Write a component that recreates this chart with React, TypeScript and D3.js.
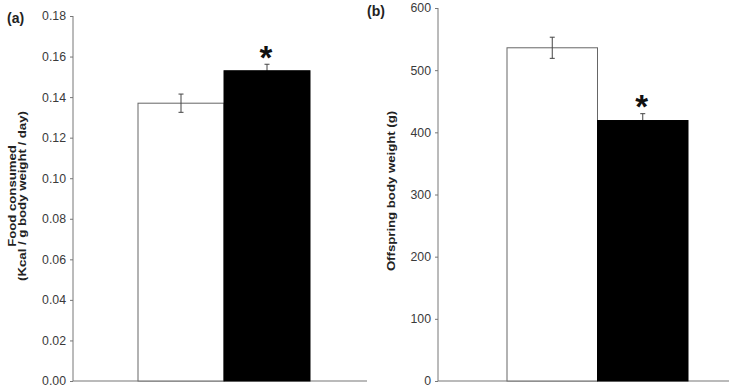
import React, { useRef, useEffect } from 'react';
import * as d3 from 'd3';

const groups = ['Control', 'Treated'];
const barFills = ['#ffffff', '#000000'];
const significant = [false, true];

const foodMeans = [0.137, 0.153];
const foodErrors = [0.0045, 0.0032];
const foodTicks = [0, 0.02, 0.04, 0.06, 0.08, 0.1, 0.12, 0.14, 0.16, 0.18];

const weightMeans = [536, 419];
const weightErrors = [17, 11];
const weightTicks = [0, 100, 200, 300, 400, 500, 600];

const FONT = '"Liberation Sans", Arial, sans-serif';

interface PanelSpec {
  tag: string;
  titleLines: string[];
  titleBaselines: number[];
  titleCenter: number;
  means: number[];
  errors: number[];
  ticks: number[];
  fmt: (v: number) => string;
  domainMax: number;
  axisX: number;
  axisEnd: number;
  barRange: [number, number];
  top: number;
  tagPos: [number, number];
}

const App: React.FC = () => {
  const svgRef = useRef<SVGSVGElement>(null);

  useEffect(() => {
    if (!svgRef.current) return;
    const svg = d3.select(svgRef.current);
    svg.selectAll('*').remove();

    const bottom = 381;

    const panels: PanelSpec[] = [
      {
        tag: '(a)',
        titleLines: ['Food consumed', '(Kcal / g body weight / day)'],
        titleBaselines: [15.5, 25.5],
        titleCenter: 196,
        means: foodMeans,
        errors: foodErrors,
        ticks: foodTicks,
        fmt: d3.format('.2f'),
        domainMax: 0.18,
        axisX: 73,
        axisEnd: 367,
        barRange: [138, 310],
        top: 16,
        tagPos: [7, 23],
      },
      {
        tag: '(b)',
        titleLines: ['Offspring body weight (g)'],
        titleBaselines: [395],
        titleCenter: 191,
        means: weightMeans,
        errors: weightErrors,
        ticks: weightTicks,
        fmt: d3.format('d'),
        domainMax: 600,
        axisX: 438,
        axisEnd: 729,
        barRange: [507, 688],
        top: 8,
        tagPos: [367, 16],
      },
    ];

    panels.forEach(p => {
      const y = d3.scaleLinear().domain([0, p.domainMax]).range([bottom, p.top]);
      const x = d3.scaleBand().domain(groups).range(p.barRange).padding(0);
      const g = svg.append('g');

      // Y axis
      g.append('g')
        .attr('transform', `translate(${p.axisX},0)`)
        .call(d3.axisLeft(y).tickValues(p.ticks).tickFormat(d => p.fmt(+d)).tickSize(3).tickPadding(4))
        .call(a => a.select('.domain').attr('stroke', '#777').attr('d', `M0,${bottom}V${p.top}`))
        .call(a => a.selectAll('.tick line').attr('stroke', '#777'))
        .call(a => a.selectAll('.tick text')
          .attr('fill', '#3a3a3a')
          .attr('font-size', 12.3)
          .attr('font-family', FONT));

      // X axis line
      g.append('line')
        .attr('x1', p.axisX).attr('x2', p.axisEnd)
        .attr('y1', bottom).attr('y2', bottom)
        .attr('stroke', '#777').attr('stroke-width', 1.2);

      // Bars + error bars
      groups.forEach((grp, i) => {
        const bx = x(grp)!;
        const cx = bx + x.bandwidth() / 2;
        const hi = y(p.means[i] + p.errors[i]);
        const lo = y(p.means[i] - p.errors[i]);
        const drawErr = () => {
          g.append('line').attr('x1', cx).attr('x2', cx).attr('y1', hi).attr('y2', lo)
            .attr('stroke', '#444').attr('stroke-width', 1);
          [hi, lo].forEach(yy => g.append('line')
            .attr('x1', cx - 2.5).attr('x2', cx + 2.5).attr('y1', yy).attr('y2', yy)
            .attr('stroke', '#444').attr('stroke-width', 1));
        };
        const dark = barFills[i] === '#000000';
        if (dark) drawErr();
        g.append('rect')
          .attr('x', bx)
          .attr('y', y(p.means[i]))
          .attr('width', x.bandwidth())
          .attr('height', bottom - y(p.means[i]))
          .attr('fill', barFills[i])
          .attr('stroke', dark ? '#000' : '#666')
          .attr('stroke-width', 1);
        if (!dark) drawErr();

        if (significant[i]) {
          g.append('text')
            .attr('x', cx - 1)
            .attr('y', hi + 4.5)
            .attr('text-anchor', 'middle')
            .attr('font-family', FONT)
            .attr('font-weight', 'bold')
            .attr('font-size', 33)
            .attr('fill', '#111')
            .text('*');
        }
      });

      // Panel tag
      g.append('text')
        .attr('x', p.tagPos[0]).attr('y', p.tagPos[1])
        .attr('font-family', FONT).attr('font-weight', 'bold').attr('font-size', 14)
        .attr('fill', '#222')
        .text(p.tag);

      // Y title (stretched along the text direction, as in the source figure)
      p.titleLines.forEach((line, li) => {
        g.append('text')
          .attr('transform', `translate(${p.titleBaselines[li]},${p.titleCenter}) rotate(-90) scale(1.2,1)`)
          .attr('text-anchor', 'middle')
          .attr('font-family', FONT).attr('font-weight', 'bold').attr('font-size', 11)
          .attr('fill', '#222')
          .text(line);
      });
    });
  }, []);

  return (
    <div style={{ position: 'absolute', left: 0, top: 0, width: 729, height: 388, background: '#fff' }}>
      <svg ref={svgRef} width={729} height={388} />
    </div>
  );
};

export default App;
